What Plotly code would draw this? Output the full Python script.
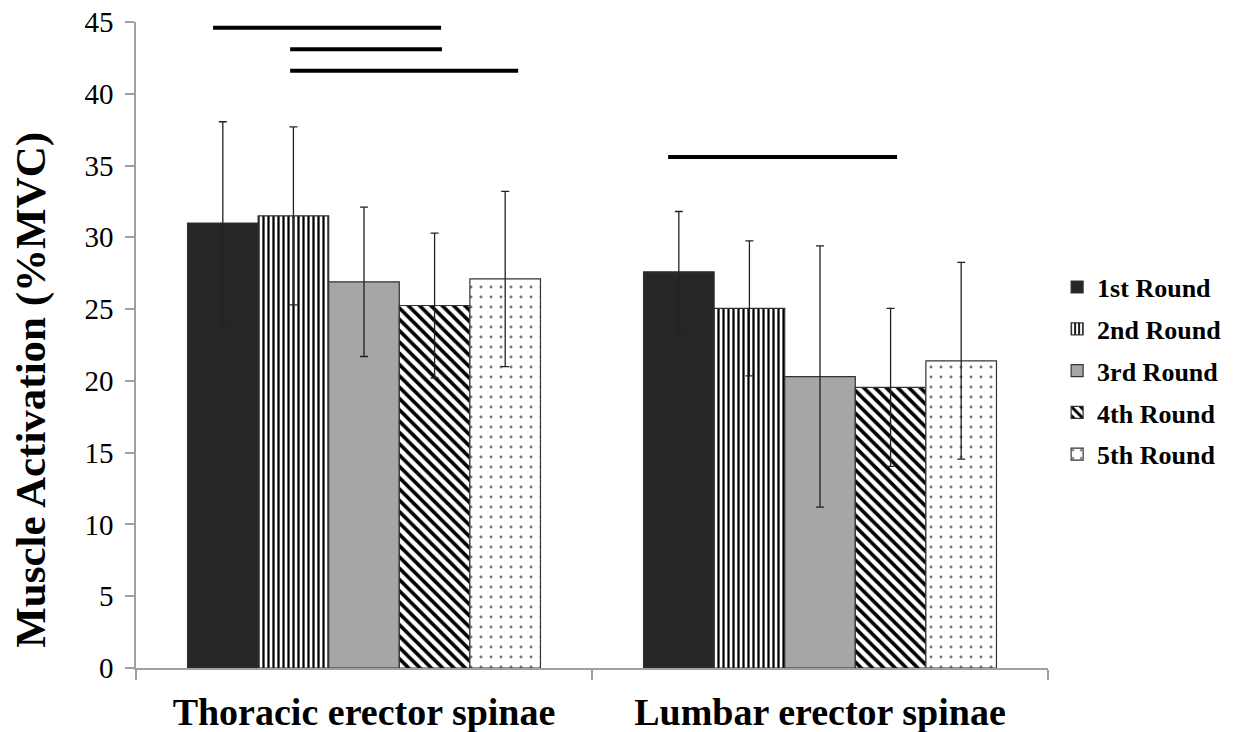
import plotly.graph_objects as go

categories = ["Thoracic erector spinae", "Lumbar erector spinae"]
rounds = ["1st Round", "2nd Round", "3rd Round", "4th Round", "5th Round"]
means = {
    "1st Round": [31.0, 27.6],
    "2nd Round": [31.5, 25.05],
    "3rd Round": [26.9, 20.3],
    "4th Round": [25.25, 19.55],
    "5th Round": [27.1, 21.4],
}
sds = {
    "1st Round": [7.05, 4.2],
    "2nd Round": [6.2, 4.7],
    "3rd Round": [5.2, 9.1],
    "4th Round": [5.05, 5.5],
    "5th Round": [6.1, 6.85],
}
# significance bars: (x start, x end, y) in category-axis units / data units
sig_lines = [
    (-0.331, 0.169, 44.6),
    (-0.162, 0.171, 43.1),
    (-0.162, 0.338, 41.6),
    (0.667, 1.169, 35.6),
]
y_ticks = [0, 5, 10, 15, 20, 25, 30, 35, 40, 45]

styles = {
    "1st Round": dict(color="#262626", pattern=dict(shape="")),
    "2nd Round": dict(color="white", pattern=dict(shape="|", fgcolor="black", bgcolor="white", size=5, solidity=0.45, fillmode="replace")),
    "3rd Round": dict(color="#a6a6a6", pattern=dict(shape="")),
    "4th Round": dict(color="white", pattern=dict(shape="\\", fgcolor="black", bgcolor="white", size=8, solidity=0.45, fillmode="replace")),
    "5th Round": dict(color="white", pattern=dict(shape=".", fgcolor="#777777", bgcolor="white", size=10, solidity=0.07, fillmode="replace")),
}

font = "Liberation Serif"
fig = go.Figure()
for r in rounds:
    st = styles[r]
    fig.add_trace(go.Bar(
        name=r, x=categories, y=means[r], legendgroup=r,
        marker=dict(color=st["color"], pattern=st["pattern"],
                    line=dict(color="#333333", width=1.2)),
        error_y=dict(type="data", array=sds[r], visible=True,
                     color="#222222", thickness=1.3, width=4),
    ))

for x0, x1, yv in sig_lines:
    fig.add_shape(type="line", xref="x", yref="y", x0=x0, x1=x1, y0=yv, y1=yv,
                  line=dict(color="black", width=4))

fig.add_annotation(text="<b>Muscle Activation (%MVC)</b>", xref="paper", yref="paper",
                   x=-0.116, y=0.431, xanchor="center", yanchor="middle",
                   textangle=-90, showarrow=False,
                   font=dict(family=font, size=43, color="black"))

fig.update_layout(
    width=1239, height=732,
    margin=dict(l=136, r=191, t=22, b=64, autoexpand=False),
    plot_bgcolor="white", paper_bgcolor="white",
    barmode="group", bargap=0.226, bargroupgap=0,
    font=dict(family=font, color="black"),
    showlegend=True,
    legend=dict(x=1.01, y=0.626, xanchor="left", yanchor="top",
                font=dict(family=font, size=26, color="black", weight="bold"),
                itemwidth=30, tracegroupgap=5, traceorder="grouped"),
)
fig.update_xaxes(
    showline=True, linecolor="#a0a0a0", linewidth=1.5, automargin=False,
    ticks="outside", tickson="boundaries", ticklen=10, tickcolor="#a0a0a0", tickwidth=1.5,
    tickfont=dict(family=font, size=38, color="black", weight="bold"),
    ticklabelstandoff=10,
    showgrid=False,
)
fig.update_yaxes(
    range=[0, 45], tickvals=y_ticks, automargin=False,
    showline=True, linecolor="#a0a0a0", linewidth=1.5,
    ticks="outside", ticklen=9, tickcolor="#a0a0a0", tickwidth=1.5,
    tickfont=dict(family=font, size=29, color="black"),
    ticklabelstandoff=6,
    showgrid=False, zeroline=False,
)
fig.write_html("out.html")
